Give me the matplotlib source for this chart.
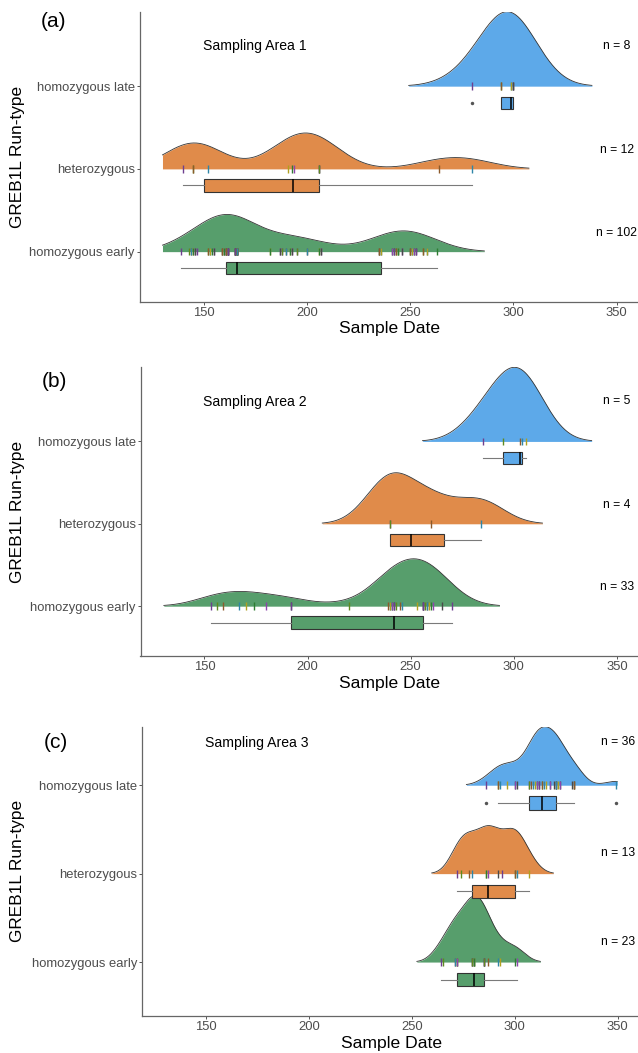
import numpy as np
import matplotlib
matplotlib.use("Agg")
import matplotlib.pyplot as plt

# =========================
# DATA (sample dates, read off the rug ticks / boxplots)
# =========================
GROUP_LABELS = ["homozygous early", "heterozygous", "homozygous late"]
AREA_TITLES = ["Sampling Area 1", "Sampling Area 2", "Sampling Area 3"]
PANEL_TAGS = ["(a)", "(b)", "(c)"]
X_TICKS = [150, 200, 250, 300, 350]

# Sampling area 1
P1_EARLY_DAYS = [139, 143, 144, 145, 146, 147, 152, 153, 154, 155, 159, 160, 161, 162, 165, 166,
                 182, 187, 188, 190, 192, 193, 195, 200, 206, 207, 235, 236,
                 241, 242, 243, 244, 246, 250, 251, 252, 253, 256, 258, 263]
P1_EARLY_COUNTS = [1, 1, 2, 2, 2, 1, 2, 2, 1, 2, 3, 3, 5, 6, 8, 11,
                   2, 2, 2, 2, 2, 2, 2, 2, 2, 2, 3, 2,
                   2, 2, 2, 3, 2, 3, 2, 2, 2, 2, 2, 1]
P1_HET = [140, 145, 145, 152, 191, 193, 194, 206, 206, 206, 264, 280]
P1_LATE = [280, 294, 294, 299, 299, 300, 300, 300]

# Sampling area 2
P2_EARLY = [153, 156, 159, 167, 170, 174, 180, 192, 192, 220,
            239, 240, 240, 241, 241, 242, 242, 243, 245, 246,
            253, 256, 256, 256, 256, 257, 258, 258, 259, 260, 261, 265, 270]
P2_HET = [240, 240, 260, 284]
P2_LATE = [285, 295, 303, 304, 306]

# Sampling area 3
P3_EARLY = [264, 265, 271, 271, 272, 272, 272, 279, 279, 279, 280, 280,
            280, 280, 285, 285, 285, 285, 287, 292, 293, 300, 301]
P3_HET = [272, 274, 278, 279, 286, 286, 287, 292, 294, 300, 300, 301, 307]
P3_LATE = [286, 292, 292, 293, 296, 300, 300, 301, 307, 307,
           308, 309, 310, 311, 311, 312, 312, 313, 313,
           314, 315, 317, 317, 319, 320, 320, 320, 320,
           321, 322, 322, 328, 329, 329, 329, 349]

PANEL_DATA = [
    [np.repeat(P1_EARLY_DAYS, P1_EARLY_COUNTS), P1_HET, P1_LATE],
    [P2_EARLY, P2_HET, P2_LATE],
    [P3_EARLY, P3_HET, P3_LATE],
]

# =========================
# STYLE / LAYOUT
# =========================
W, H = 638, 1053
GROUP_COLORS = ["#579E6C", "#E08B4A", "#5DA9E9"]
RUG_COLORS = ["#6f3f8f", "#5f8a1f", "#8c5a2b", "#2f86a8", "#b0a020", "#2e7d32", "#8e44ad", "#4a4a4a"]
AX_RECTS_PX = [(139.5, 11.7, 500, 290), (140.5, 367.3, 499, 288.7), (142.3, 726.7, 498, 289.3)]
Y_BOTTOM = [0.395, 0.395, 0.39]
RIDGE_SCALE = [0.9, 0.9, 0.75]
TAG_POS_PX = [(54, 21.7), (54, 382), (56, 743)]
N_LABEL_DY = [0.23, 0.23, 0.485]
SCALE_LIMITS = (130, 350)
XLIM = (119, 361)
REL_MIN_HEIGHT = 0.01

plt.rcParams["font.family"] = ["Liberation Sans", "DejaVu Sans"]


def nrd0(x):
    x = np.asarray(x, float)
    sd = x.std(ddof=1)
    q75, q25 = np.percentile(x, [75, 25])
    lo = min(sd, (q75 - q25) / 1.34)
    if lo <= 0:
        lo = sd if sd > 0 else 1.0
    return 0.9 * lo * len(x) ** -0.2


def kde(x, grid, bw):
    x = np.asarray(x, float)
    z = (grid[:, None] - x[None, :]) / bw
    return np.exp(-0.5 * z ** 2).sum(axis=1) / (len(x) * bw * np.sqrt(2 * np.pi))


fig = plt.figure(figsize=(W / 100, H / 100), dpi=100)

for p in range(3):
    l, t, w, h = AX_RECTS_PX[p]
    ax = fig.add_axes([l / W, 1 - (t + h) / H, w / W, h / H])
    groups = [np.asarray(g, float) for g in PANEL_DATA[p]]

    # joint bandwidth like ggridges: mean of per-group nrd0
    bw = np.mean([nrd0(g) for g in groups])
    lo = min(g.min() for g in groups) - 3 * bw
    hi = max(g.max() for g in groups) + 3 * bw
    grid = np.linspace(lo, hi, 512)
    dens = [kde(g, grid, bw) for g in groups]
    dmax = max(d.max() for d in dens)

    top = 0
    for i, (g, d) in enumerate(zip(groups, dens)):
        base = i + 1
        keep = (grid >= SCALE_LIMITS[0]) & (grid <= SCALE_LIMITS[1]) & (d >= REL_MIN_HEIGHT * dmax)
        ys = np.where(keep, base + d / dmax * RIDGE_SCALE[p], np.nan)
        top = max(top, np.nanmax(ys))
        ax.fill_between(grid, base, ys, where=keep, color=GROUP_COLORS[i], lw=0, zorder=2)
        ax.plot(grid, ys, color="#333333", lw=0.6, zorder=3)

        # rug ticks
        gs = np.sort(g)
        cols = [RUG_COLORS[k % len(RUG_COLORS)] for k in range(len(gs))]
        ax.vlines(gs, base - 0.045, base + 0.045, colors=cols, lw=1.0, zorder=4)

        # boxplot under the ridge
        ax.boxplot(g, positions=[base - 0.2], widths=0.15, orientation="horizontal",
                   patch_artist=True, showcaps=False, manage_ticks=False,
                   boxprops=dict(facecolor=GROUP_COLORS[i], edgecolor="#333333", lw=0.8),
                   medianprops=dict(color="black", lw=1.1),
                   whiskerprops=dict(color="#7a7a7a", lw=0.8),
                   flierprops=dict(marker="o", markersize=2.5, markerfacecolor="#555555",
                                   markeredgecolor="none"),
                   zorder=3)

        ax.text(350, base + N_LABEL_DY[i], f"n = {len(g)}", ha="center", va="center",
                fontsize=8.7, color="black")

    ax.text(149.5, 3.48, AREA_TITLES[p], ha="left", va="center", fontsize=10.1, color="black")

    ax.set_xlim(*XLIM)
    ax.set_ylim(Y_BOTTOM[p], top)
    ax.set_xticks(X_TICKS)
    ax.set_yticks([1, 2, 3])
    ax.set_yticklabels(GROUP_LABELS)
    for s in ["top", "right"]:
        ax.spines[s].set_visible(False)
    for s in ["left", "bottom"]:
        ax.spines[s].set_color("#666666")
        ax.spines[s].set_linewidth(0.9)
    ax.tick_params(length=2, width=0.7, color="#555555", labelcolor="#4D4D4D",
                   labelsize=9.4, pad=1.5)
    ax.set_xlabel("Sample Date", fontsize=12.6, labelpad=2, color="black")
    ax.text((17.5 - l) / w, 0.5, "GREB1L Run-type", transform=ax.transAxes, rotation=90,
            ha="center", va="center", fontsize=12.4, color="black")

    tx, ty = TAG_POS_PX[p]
    fig.text(tx / W, 1 - ty / H, PANEL_TAGS[p], ha="center", va="center", fontsize=15)

fig.savefig("out.png", dpi=100)
